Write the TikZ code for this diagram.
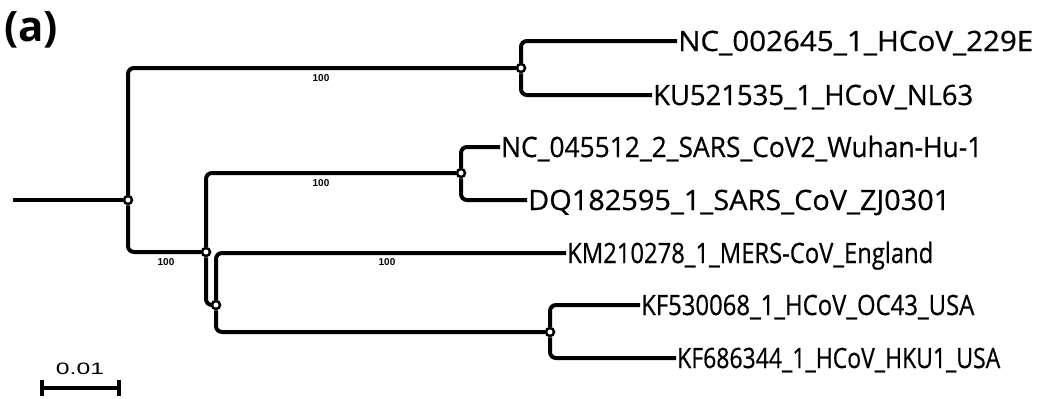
\documentclass[tikz,border=0pt]{standalone}
\usepackage{fontspec}
\setmainfont{Open Sans}
\newfontfamily\tipfont[FakeBold=0.6]{Open Sans}
\newfontfamily\bsfont{Liberation Sans}
\newfontfamily\sbfont[FakeStretch=1.5]{Liberation Sans}
\usetikzlibrary{arrows.meta,backgrounds}
\newcommand\tipname[2]{\resizebox{#1}{\height}{#2}}

\begin{document}
\begin{tikzpicture}[x=1pt,y=-1pt,
  br/.style={line width=4pt,rounded corners=6pt},
  jn/.style={circle,draw,fill=white,line width=2.5pt,inner sep=0pt,minimum size=8pt},
  lf/.style={anchor=west,inner xsep=1pt,inner ysep=0pt,font=\tipfont\fontsize{28}{28}\selectfont,text height=20pt,text depth=0pt},
  bs/.style={font=\bsfont\bfseries\fontsize{10}{10}\selectfont,inner sep=0pt}]
\useasboundingbox (0,0) rectangle (1037,399);
\node[font=\bfseries\fontsize{42}{42}\selectfont,inner sep=0pt] (P) at (31,30) {(a)};
% junctions
\coordinate (R) at (13,200);
\node[jn] (N0) at (128,200) {};
\node[jn] (N1) at (521,68) {};
\node[jn] (N2) at (206,252) {};
\node[jn] (N3) at (461,173) {};
\node[jn] (N4) at (216,305) {};
\node[jn] (N5) at (550,332) {};
% tips
\node[lf] (L1) at (677,41) {\tipname{355pt}{NC\_002645\_1\_HCoV\_229E}};
\node[lf] (L2) at (652,95) {\tipname{320pt}{KU521535\_1\_HCoV\_NL63}};
\node[lf] (L3) at (500,147) {\tipname{481pt}{NC\_045512\_2\_SARS\_CoV2\_Wuhan-Hu-1}};
\node[lf] (L4) at (527,200) {\tipname{422pt}{DQ182595\_1\_SARS\_CoV\_ZJ0301}};
\node[lf] (L5) at (566,253) {\tipname{366pt}{KM210278\_1\_MERS-CoV\_England}};
\node[lf] (L6) at (640,305) {\tipname{333pt}{KF530068\_1\_HCoV\_OC43\_USA}};
\node[lf] (L7) at (676,358) {\tipname{323pt}{KF686344\_1\_HCoV\_HKU1\_USA}};
% bootstrap
\node[bs] (B1) at (321,78) {100};
\node[bs] (B2) at (321,183) {100};
\node[bs] (B3) at (166,262) {100};
\node[bs] (B4) at (387,262) {100};
% branches
\begin{scope}[on background layer]
\draw[br] (R) -- (N0);
\draw[br] (N0) |- (N1);
\draw[br] (N0) |- (N2);
\draw[br] (N1) |- (L1);
\draw[br] (N1) |- (L2);
\draw[br] (N2) |- (N3);
\draw[br] (N2) |- (N4);
\draw[br] (N3) |- (L3);
\draw[br] (N3) |- (L4);
\draw[br] (N4) |- (L5);
\draw[br] (N4) |- (N5);
\draw[br] (N5) |- (L6);
\draw[br] (N5) |- (L7);
\end{scope}
% scale
\coordinate (S1) at (40,388);
\coordinate (S2) at (121,388);
\draw[line width=4pt,{Bar[width=16pt]}-{Bar[width=16pt]}] (S1) -- (S2);
\node[font=\sbfont\fontsize{16.5}{16.5}\selectfont] (T) at (80,369) {0.01};
\end{tikzpicture}
\end{document}
